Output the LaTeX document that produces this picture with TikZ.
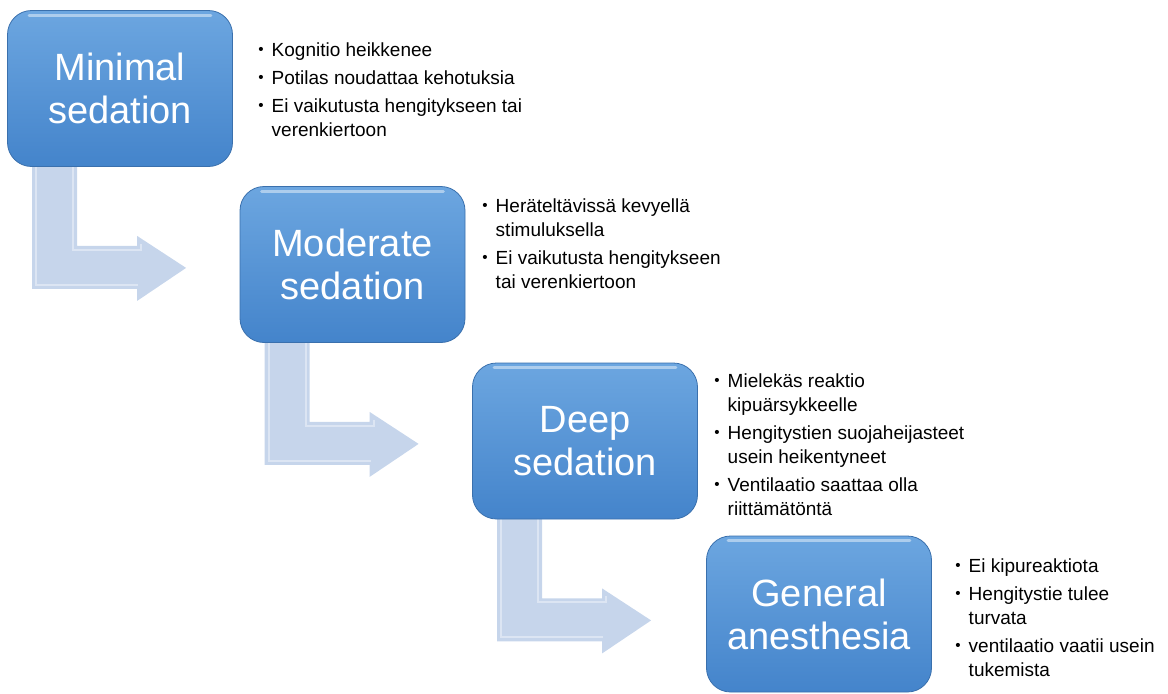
\documentclass[tikz,border=0pt]{standalone}
\usepackage{fontspec}
\setmainfont{Liberation Sans}
\usetikzlibrary{calc,backgrounds}
\definecolor{boxtop}{RGB}{108,166,224}
\definecolor{boxbot}{RGB}{68,132,203}
\definecolor{arrowc}{RGB}{198,213,235}
\newcommand{\bul}{\raisebox{0.15ex}{\scalebox{0.8}{\textbullet}}}
\newcommand{\bentarrow}[1]{%
  \fill[arrowfill, shift={(#1)}] (25,-6) -- (70,-6) -- (70,79) -- (130,79) -- (130,69) -- (179,101) -- (130,134) -- (130,122) -- (25,122) -- cycle;
  \draw[arrowedge, shift={(#1)}] (29,-2) -- (29,118) -- (131,118) (66,-2) -- (66,83) -- (134,83) -- (134,77);}

\tikzset{
  boxnode/.style={draw=boxbot!85!black, line width=0.4pt, rounded corners=12pt, top color=boxtop, bottom color=boxbot,
    minimum width=112.5pt, minimum height=78pt, text=white, align=center,
    font=\fontsize{19}{21.5}\selectfont, inner sep=0pt},
  arrowfill/.style={fill=arrowc},
  arrowedge/.style={draw=white, line width=1pt, opacity=0.4},
  notes/.style={anchor=base west, inner sep=0pt, font=\fontsize{9.5}{12}\selectfont}
}

\begin{document}
\begin{tikzpicture}[x=0.5pt, y=-0.5pt]
		%%%%% START %%%%%
		\useasboundingbox (0,0) rectangle (1168,693);
		
		\node[boxnode] (min) at (120, 88.5) {Minimal\\sedation};
		\node[boxnode] (mod) at (352.5, 264.5) {Moderate\\sedation};
		\node[boxnode] (deep) at (585, 441) {Deep\\sedation};
		\node[boxnode] (gen) at (819, 614) {General\\anesthesia};
		
		% glossy top edge
		\foreach \b in {min, mod, deep, gen}
			\draw[white, opacity=0.45, line width=1.5pt, line cap=round] ($(\b.north west)+(22,5)$) -- ($(\b.north east)+(-22,5)$);
		
		% bent arrows behind the boxes
		\begin{scope}[on background layer]
			\bentarrow{min.south west}
			\bentarrow{mod.south west}
			\bentarrow{deep.south west}
		\end{scope}
		
		% notes
		\node[notes] (n1) at (258, 56) {\begin{tabular}[t]{@{}l@{\hspace{4pt}}l@{}}
			\bul & Kognitio heikkenee\\[2pt]
			\bul & Potilas noudattaa kehotuksia\\[2pt]
			\bul & Ei vaikutusta hengitykseen tai\\
			 & verenkiertoon
		\end{tabular}};
		\node[notes] (n2) at (482, 212) {\begin{tabular}[t]{@{}l@{\hspace{4pt}}l@{}}
			\bul & Heräteltävissä kevyellä\\
			 & stimuluksella\\[2pt]
			\bul & Ei vaikutusta hengitykseen\\
			 & tai verenkiertoon
		\end{tabular}};
		\node[notes] (n3) at (714, 387) {\begin{tabular}[t]{@{}l@{\hspace{4pt}}l@{}}
			\bul & Mielekäs reaktio\\
			 & kipuärsykkeelle\\[2pt]
			\bul & Hengitystien suojaheijasteet\\
			 & usein heikentyneet\\[2pt]
			\bul & Ventilaatio saattaa olla\\
			 & riittämätöntä
		\end{tabular}};
		\node[notes] (n4) at (955, 572) {\begin{tabular}[t]{@{}l@{\hspace{4pt}}l@{}}
			\bul & Ei kipureaktiota\\[2pt]
			\bul & Hengitystie tulee\\
			 & turvata\\[2pt]
			\bul & ventilaatio vaatii usein\\
			 & tukemista
		\end{tabular}};
		%%%%% END %%%%%
\end{tikzpicture}
\end{document}
